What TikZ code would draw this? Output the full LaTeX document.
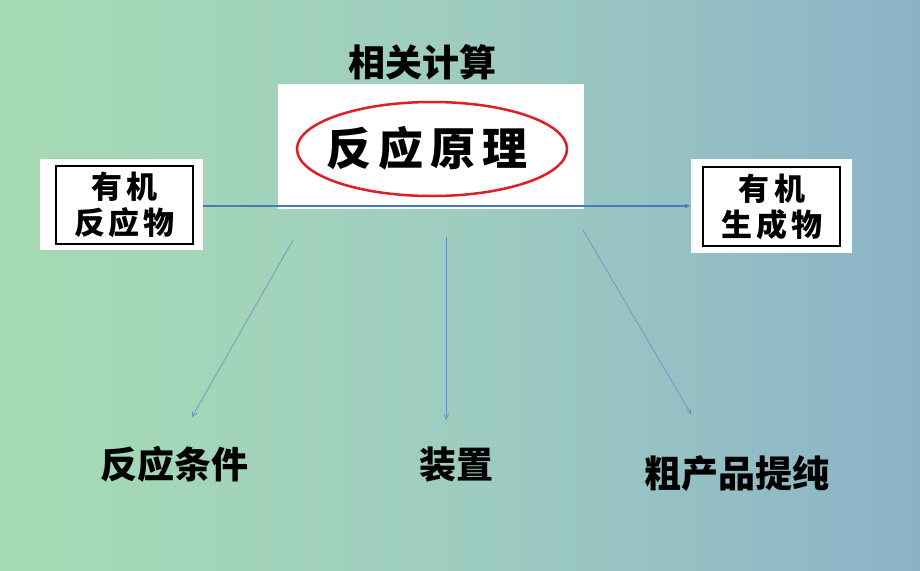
\documentclass[tikz,border=0pt]{standalone}
\usepackage{fontspec}
\newfontfamily\cjk{Noto Sans CJK SC}
\usetikzlibrary{arrows.meta,shapes.geometric}
\definecolor{bgL}{RGB}{166,219,179}
\definecolor{bgM}{RGB}{158,205,192}
\definecolor{bgR}{RGB}{139,179,200}
\definecolor{linkblue}{RGB}{74,120,185}
\definecolor{ellred}{RGB}{222,30,40}
\tikzset{
  whitebox/.style={fill=white, draw=none, inner sep=0pt},
  framebox/.style={draw=black, line width=2pt, inner sep=0pt, align=center,
    font=\cjk\bfseries\fontsize{31}{38}\selectfont},
  label/.style={font=\cjk\bfseries\fontsize{37}{40}\selectfont, inner sep=0pt},
  hconn/.style={draw=linkblue, line width=1.1pt, -{Latex[length=6pt,width=5pt]}},
  dconn/.style={draw=linkblue!85, line width=0.6pt, -{Straight Barb[length=5pt,width=5pt]}},
}
\begin{document}
\begin{tikzpicture}[x=1pt,y=-1pt]
\useasboundingbox (0,0) rectangle (920,570);
\shade[left color=bgL, right color=bgR, middle color=bgM] (0,0) rectangle (920,570);

% left box
\node[whitebox, minimum width=163pt, minimum height=91pt] (lw) at (121.5,204.5) {};
\node[framebox, minimum width=137pt, minimum height=78pt] (reac) at (124.5,205)
  {有\hspace{5pt}机\\[-2pt]反\hspace{4pt}应\hspace{4pt}物};

% center
\node[whitebox, minimum width=306pt, minimum height=125pt] (cw) at (431,146.5) {};
\node[ellipse, draw=ellred, line width=2.5pt, minimum width=270pt, minimum height=94pt] (ell) at (432,149) {};
\node[font=\cjk\bfseries\fontsize{45}{48}\selectfont, inner sep=0pt] (prin) at (427,148)
  {反\hspace{7pt}应\hspace{7pt}原\hspace{7pt}理};
\node[label] (calc) at (422,62) {相关计算};

% right box
\node[whitebox, minimum width=161pt, minimum height=94pt] (rw) at (771.5,206) {};
\node[framebox, minimum width=137pt, minimum height=79pt] (prod) at (771.5,206.5)
  {有\hspace{5pt}机\\[-2pt]生\hspace{4pt}成\hspace{4pt}物};

% labels
\node[label] (cond) at (174,464) {反应条件};
\node[label] (app) at (456,465) {装置};
\node[label] (pur) at (737,474) {粗产品提纯};

% connectors
\draw[hconn] (lw.east |- rw.west) -- (rw.west);
\coordinate (s1) at (293,240); \coordinate (e1) at (192,417);
\coordinate (s2) at (446,237); \coordinate (e2) at (446,420);
\coordinate (s3) at (583,230); \coordinate (e3) at (691,414);
\draw[dconn] (s1) -- (e1);
\draw[dconn] (s2) -- (e2);
\draw[dconn] (s3) -- (e3);
\end{tikzpicture}
\end{document}
